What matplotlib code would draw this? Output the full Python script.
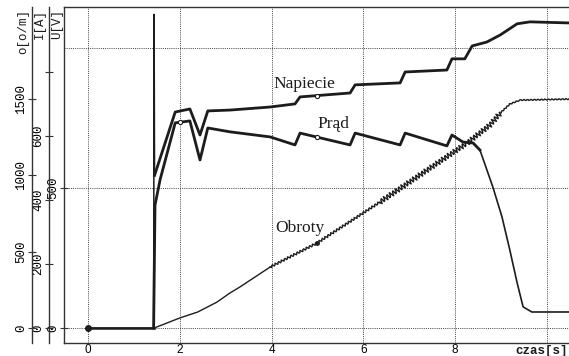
import matplotlib

matplotlib.use("Agg")

import matplotlib.pyplot as plt
import numpy as np

# napiecie U [V]
t_u = [0.0, 1.43, 1.44, 1.45, 1.90, 2.22, 2.44, 2.61, 3.09, 3.97, 4.51, 4.62, 5.71,
       5.82, 6.80, 6.91, 7.82, 7.93, 8.21, 8.37, 8.69, 8.98, 9.35, 9.63, 10.50]
u_v = [0, 0, 1120, 545, 771, 782, 689, 775, 778, 789, 800, 825, 839,
       868, 875, 914, 921, 961, 961, 1007, 1021, 1046, 1086, 1093, 1089]

# prad I [A]
t_i = [0.0, 1.43, 1.46, 1.57, 1.90, 2.22, 2.44, 2.61, 3.09, 3.97, 4.51, 4.62, 5.71, 5.82,
       6.80, 6.91, 7.82, 7.93, 8.17, 8.39, 8.54, 8.82, 9.02, 9.19, 9.35, 9.48, 9.67, 10.50]
i_a = [0, 0, 384, 463, 641, 647, 525, 625, 613, 597, 572, 609, 572, 609,
       572, 609, 569, 603, 581, 578, 556, 441, 347, 244, 141, 66, 50, 50]

# obroty [o/m]
t_o = [0.0, 1.44, 2.0, 2.39, 2.81, 3.09, 3.31, 3.97, 4.99, 6.36, 8.26, 8.76, 8.98,
       9.19, 9.41, 10.50]
o_rpm = [0, 0, 66, 105, 170, 229, 269, 400, 557, 825, 1212, 1330, 1408,
         1467, 1493, 1500]

x_ticks = [0, 2, 4, 6, 8, 10]
x_labels = ["0", "2", "4", "6", "8", ""]
u_ticks = [0, 500]
i_ticks = [0, 200, 400, 600, 800]
i_labels = ["0", "200", "400", "600", ""]
o_ticks = [0, 500, 1000, 1500]

INK = "#1c1c1c"
MONO = "Liberation Mono"

fig = plt.figure(figsize=(5.69, 3.56), dpi=100)
ax = fig.add_axes([64 / 569, 13 / 356, 505 / 569, 336 / 356])
ax_i = ax.twinx()
ax_o = ax.twinx()

ax.set_xlim(-0.523, 10.48)
ax.set_ylim(-53.6, 1146)
ax_i.set_ylim(-46.9, 1003)
ax_o.set_ylim(-98, 2103)

# grid
for g in x_ticks:
    ax.axvline(g, color="#444", lw=0.7, ls=(0, (1, 1.2)), zorder=0)
for g in [0, 500, 1000]:
    ax.axhline(g, color="#444", lw=0.7, ls=(0, (1, 1.2)), zorder=0)

# curves
ax.plot(t_u[:2], u_v[:2], color=INK, lw=1.8)
ax.plot(t_u[1:4], u_v[1:4], color=INK, lw=1.1)
ax.plot(t_u[3:], u_v[3:], color=INK, lw=2.0)
ax_i.plot(t_i[1:21], i_a[1:21], color=INK, lw=2.0)
ax_i.plot(t_i[19:], i_a[19:], color=INK, lw=1.2)

ripple = [(0, 8, 0.0), (7, 10, 1.2), (9, 13, 2.6), (12, 16, 0.6)]
for a, b, sc in ripple:
    ln, = ax_o.plot(t_o[a:b], o_rpm[a:b], color=INK, lw=1.0)
    if sc:
        ln.set_sketch_params(scale=sc, length=3.5, randomness=1.0)

# cursor markers
ax.plot([0], [0], "o", color=INK, ms=4)
ax.plot([5.0], [np.interp(5.0, t_u, u_v)], "o", mfc="white", mec=INK, ms=3, mew=0.8)
ax_i.plot([5.0, 2.0], [np.interp(5.0, t_i, i_a), np.interp(2.0, t_i, i_a)], "o",
          mfc="white", mec=INK, ms=3, mew=0.8)
ax_o.plot([5.0], [np.interp(5.0, t_o, o_rpm)], "o", color=INK, ms=2.5)

# curve names
serif = dict(family="Liberation Serif", fontsize=12.5, color=INK, va="center", ha="left")
ax.text(4.03, 871, "Napiecie", **serif)
ax.text(4.99, 728, "Prąd", **serif)
ax.text(4.07, 357, "Obroty", **serif)

# frame
for a in (ax, ax_i, ax_o):
    a.spines["right"].set_visible(False)
for a in (ax_i, ax_o):
    a.spines["top"].set_visible(False)
    a.spines["bottom"].set_visible(False)
    a.yaxis.set_ticks_position("left")
    a.spines["left"].set_visible(True)
ax_i.spines["left"].set_position(("outward", 15 * 0.72))
ax_o.spines["left"].set_position(("outward", 32 * 0.72))
for a in (ax, ax_i, ax_o):
    for s in a.spines.values():
        s.set_color("#333")
        s.set_linewidth(1.0)

ax.set_xticks(x_ticks)
ax.set_xticklabels(x_labels)
ax.tick_params(axis="x", length=0, pad=1, labelsize=8.5)
for lbl in ax.get_xticklabels():
    lbl.set_family("Liberation Sans")
fig.text(568 / 569, 1 - 351 / 356, "czas[s]", ha="right", va="center",
         family=MONO, fontweight="bold", fontsize=9, color=INK)

ax.set_yticks(u_ticks)
ax_i.set_yticks(i_ticks)
ax_i.set_yticklabels(i_labels)
ax_o.set_yticks(o_ticks)
for a in (ax, ax_i, ax_o):
    a.tick_params(axis="y", direction="inout", length=6, width=0.8, color="#333",
                  pad=0.5, labelsize=9, labelrotation=90)
    for lbl in a.get_yticklabels():
        lbl.set_family(MONO)
        lbl.set_va("center")

# axis names
for x, name in [(23, "o[o/m]"), (40, "I[A]"), (57, "U[V]")]:
    fig.text(x / 569, 1 - 9 / 356, name, rotation=90, ha="center", va="top",
             family=MONO, fontsize=9, color=INK)

fig.savefig("out.png", dpi=100)
